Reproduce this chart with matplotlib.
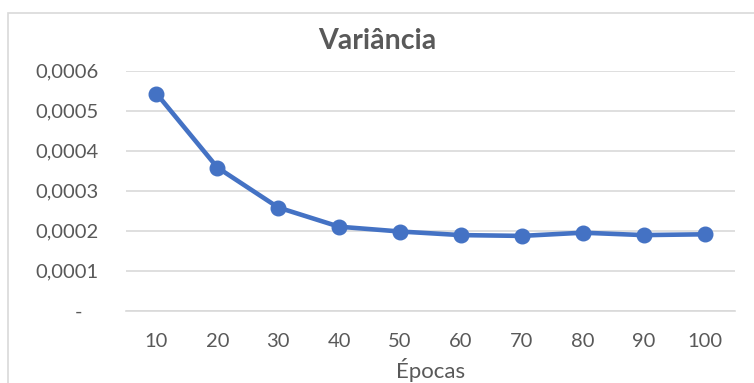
import matplotlib.pyplot as plt
from matplotlib.patches import Rectangle

epocas = ['10', '20', '30', '40', '50', '60', '70', '80', '90', '100']
variancia = [0.000543, 0.000358, 0.000258, 0.000210, 0.000198,
             0.000189, 0.000187, 0.000195, 0.000189, 0.000191]
y_ticks = [0, 0.0001, 0.0002, 0.0003, 0.0004, 0.0005, 0.0006]
y_labels = ['-   ', '0,0001', '0,0002', '0,0003', '0,0004', '0,0005', '0,0006']

plt.rcParams['font.family'] = ['Lato', 'DejaVu Sans']
cinza = '#595959'

fig = plt.figure(figsize=(7.54, 3.83), dpi=100)
ax = fig.add_axes([126 / 754, 1 - 310.7 / 383, (735 - 126) / 754, 240 / 383])

ax.plot(epocas, variancia, color='#4472C4', linewidth=3.3,
        marker='o', markersize=10.5, solid_capstyle='round')

ax.set_xlim(-0.5, len(epocas) - 0.5)
ax.set_ylim(0, 0.0006)
ax.set_yticks(y_ticks)
ax.set_yticklabels(y_labels)
ax.grid(axis='y', color='#D9D9D9', linewidth=1.2)
ax.set_axisbelow(True)
for s in ['top', 'right', 'left']:
    ax.spines[s].set_visible(False)
ax.spines['bottom'].set_color('#D9D9D9')
ax.spines['bottom'].set_linewidth(1.2)
ax.tick_params(axis='both', length=0, labelsize=14.5, labelcolor=cinza)
ax.tick_params(axis='y', pad=20)
ax.tick_params(axis='x', pad=16)

ax.set_xlabel('Épocas', fontsize=16, color=cinza, labelpad=6)
fig.text(377 / 754, 1 - 41 / 383, 'Variância', ha='center', va='center',
         fontsize=20.5, fontweight='bold', color=cinza)

fig.patches.append(Rectangle((8 / 754, -0.2), 1.2, 1 - 13.3 / 383 + 0.2,
                             transform=fig.transFigure, fill=False,
                             edgecolor='#D9D9D9', linewidth=1.2))

fig.savefig('out.png', dpi=100)
